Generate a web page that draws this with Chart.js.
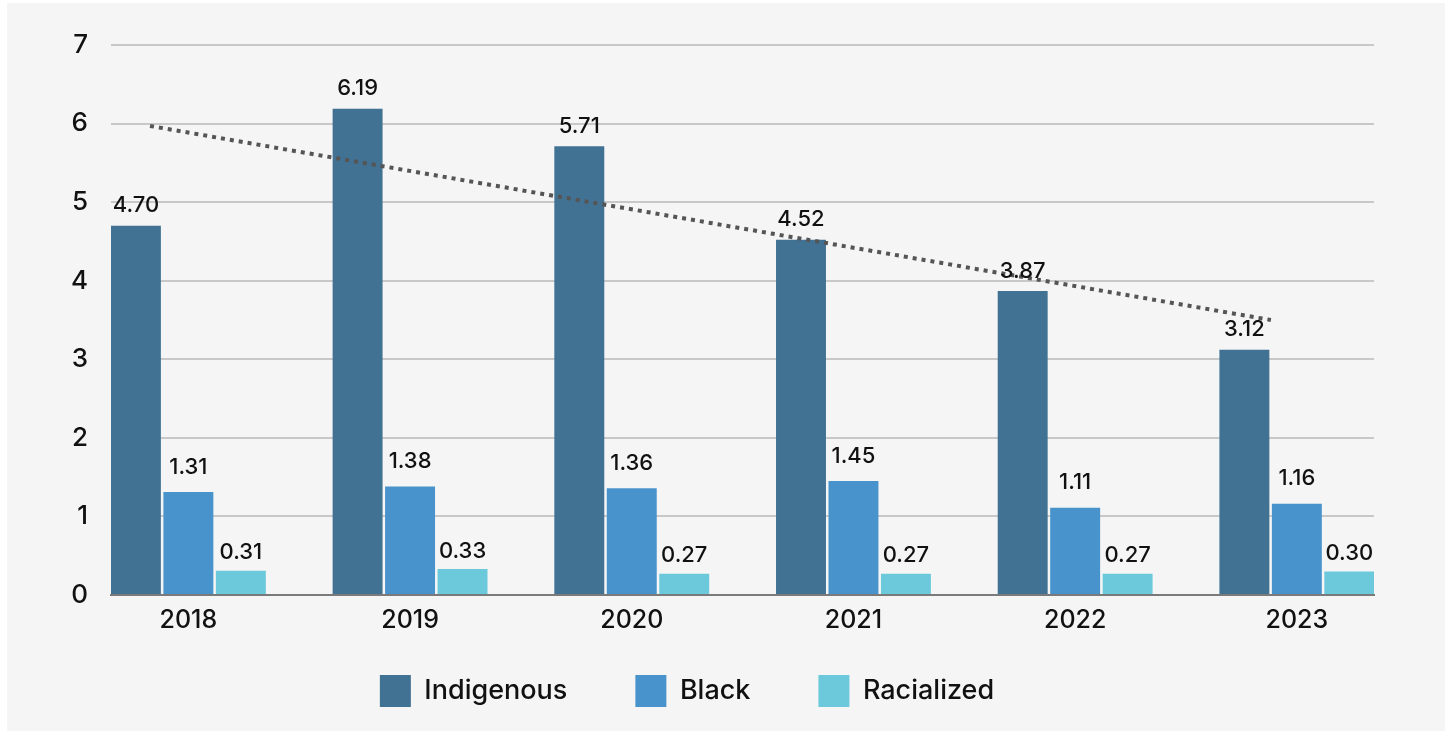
<!DOCTYPE html>
<html>
<head>
<meta charset="utf-8">
<script src="https://cdn.jsdelivr.net/npm/chart.js@4.4.1/dist/chart.umd.min.js"></script>
<style>
  html, body { margin: 0; padding: 0; background: #ffffff; }
  #wrap { position: absolute; left: 0; top: 0; width: 1450px; height: 734px; }
</style>
</head>
<body>
<div id="wrap"><canvas id="c" width="1450" height="734"></canvas></div>
<script>
// ---- data ----
const categories = ['2018', '2019', '2020', '2021', '2022', '2023'];
const indigenous = [4.70, 6.19, 5.71, 4.52, 3.87, 3.12];
const black = [1.31, 1.38, 1.36, 1.45, 1.11, 1.16];
const racialized = [0.31, 0.33, 0.27, 0.27, 0.27, 0.30];
// dotted trend line endpoints (x in category units, y in value)
const trendX = [-0.173, 4.883];
const trendY = [5.97, 3.50];
const yTicks = [0, 1, 2, 3, 4, 5, 6, 7];

const FONT = 'Inter, "Open Sans", sans-serif';
const toPts = arr => arr.map((v, i) => ({ x: i, y: v }));

const panelBg = {
  id: 'panelBg',
  beforeDraw(chart) {
    const ctx = chart.ctx;
    ctx.save();
    ctx.fillStyle = '#ffffff';
    ctx.fillRect(0, 0, chart.width, chart.height);
    ctx.fillStyle = '#f5f5f5';
    ctx.fillRect(7, 3, 1438, 728);
    ctx.restore();
  }
};

const valueLabels = {
  id: 'valueLabels',
  afterDatasetsDraw(chart) {
    const ctx = chart.ctx;
    ctx.save();
    ctx.font = '500 22px ' + FONT;
    ctx.fillStyle = '#111111';
    ctx.textAlign = 'center';
    ctx.textBaseline = 'middle';
    chart.data.datasets.forEach((ds, di) => {
      if (ds.type === 'line') return;
      const meta = chart.getDatasetMeta(di);
      meta.data.forEach((el, i) => {
        const v = ds.data[i].y;
        ctx.fillText(v.toFixed(2), el.x, el.y - ds.labelOffset);
      });
    });
    ctx.restore();
  }
};

new Chart(document.getElementById('c'), {
  type: 'bar',
  data: {
    datasets: [
      { label: 'Indigenous', data: toPts(indigenous), backgroundColor: '#427293', labelOffset: 20, order: 1 },
      { label: 'Black', data: toPts(black), backgroundColor: '#4893cb', labelOffset: 25, order: 1 },
      { label: 'Racialized', data: toPts(racialized), backgroundColor: '#6bc9db', labelOffset: 18, order: 1 },
      {
        type: 'line', label: 'trend',
        data: trendX.map((x, i) => ({ x, y: trendY[i] })),
        borderColor: '#555555', borderWidth: 4, borderDash: [4, 5], borderCapStyle: 'butt',
        pointRadius: 0, fill: false, order: 0
      }
    ]
  },
  options: {
    responsive: false,
    animation: false,
    devicePixelRatio: 1,
    layout: { padding: { left: 0, right: 76, top: 45, bottom: 17 } },
    datasets: { bar: { categoryPercentage: 0.71, barPercentage: 0.952 } },
    scales: {
      x: {
        type: 'linear',
        offset: false,
        min: -0.349, max: 5.348,
        afterFit(s) { s.height = 12; },
        afterBuildTicks(s) { s.ticks = categories.map((c, i) => ({ value: i })); },
        grid: { display: false, offset: false },
        border: { display: true, color: '#7a7a7a', width: 2 },
        ticks: {
          mirror: true,
          autoSkip: false, maxRotation: 0,
          padding: -40, color: '#111111', font: { family: FONT, size: 25, weight: '500' },
          callback: (v, i) => categories[i]
        }
      },
      y: {
        min: 0, max: 7,
        afterFit(s) { s.width = 111; },
        afterBuildTicks(s) { s.ticks = yTicks.map(v => ({ value: v })); },
        grid: { color: '#c8c8c8', lineWidth: 2, drawTicks: false },
        border: { display: false },
        ticks: { padding: 23, color: '#111111', font: { family: FONT, size: 26, weight: '500' } }
      }
    },
    plugins: {
      legend: {
        position: 'bottom',
        labels: {
          filter: item => item.text !== 'trend',
          boxWidth: 31, boxHeight: 32, padding: 68,
          color: '#111111', font: { family: FONT, size: 27, weight: '500' }
        }
      },
      tooltip: { enabled: false }
    }
  },
  plugins: [panelBg, valueLabels]
});
</script>
</body>
</html>
